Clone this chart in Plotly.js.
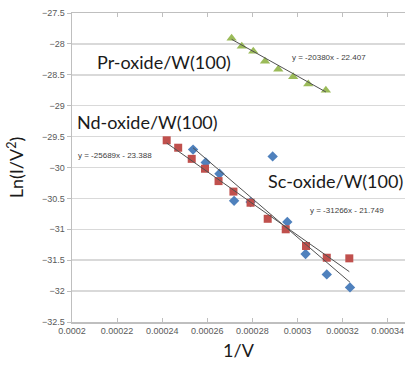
<!DOCTYPE html>
<html>
<head>
<meta charset="utf-8">
<script src="https://cdn.plot.ly/plotly-3.0.1.min.js"></script>
<style>html,body{margin:0;padding:0;background:#fff;}#chart{width:407px;height:365px;}</style>
</head>
<body>
<div id="chart"></div>
<script>
// Pr-oxide/W(100)
const prX = [0.0002708, 0.0002753, 0.0002804, 0.0002856, 0.0002915, 0.0002981, 0.0003048, 0.0003126];
const prY = [-27.91, -28.04, -28.12, -28.28, -28.41, -28.53, -28.65, -28.75];
// Nd-oxide/W(100)
const ndX = [0.0002420, 0.0002471, 0.0002531, 0.0002590, 0.0002650, 0.0002716, 0.0002792, 0.0002868, 0.0002948, 0.0003038, 0.0003130, 0.0003230];
const ndY = [-29.56, -29.68, -29.86, -30.02, -30.22, -30.39, -30.57, -30.83, -31.00, -31.27, -31.46, -31.47];
// Sc-oxide/W(100)
const scX = [0.0002537, 0.0002593, 0.0002654, 0.0002719, 0.0002792, 0.0002890, 0.0002955, 0.0003036, 0.0003130, 0.0003233];
const scY = [-29.71, -29.92, -30.10, -30.54, -30.56, -29.82, -30.88, -31.40, -31.73, -31.94];
// trendline coefficients [slope, intercept]
const prFit = [-20380, -22.407];
const ndFit = [-25689, -23.388];
const scFit = [-31266, -21.749];
const labels = ["Pr-oxide/W(100)", "Nd-oxide/W(100)", "Sc-oxide/W(100)"];
const eqs = ["y = -20380x - 22.407", "y = -25689x - 23.388", "y = -31266x - 21.749"];

function trend(xs, fit) {
  const lo = Math.min(...xs), hi = Math.max(...xs);
  return {x: [lo, hi], y: [fit[0]*lo + fit[1], fit[0]*hi + fit[1]]};
}
const tl = {color: '#505050', width: 1};
const tSc = trend(scX, scFit), tNd = trend(ndX, ndFit), tPr = trend(prX, prFit);

const data = [
  {x: scX, y: scY, mode: 'markers', type: 'scatter', marker: {symbol: 'diamond', size: 8, color: '#4f81bd'}},
  {x: ndX, y: ndY, mode: 'markers', type: 'scatter', marker: {symbol: 'square', size: 8, color: '#c0504d'}},
  {x: prX, y: prY, mode: 'markers', type: 'scatter', marker: {symbol: 'triangle-up', size: 9, color: '#9bbb59'}},
  {x: tSc.x, y: tSc.y, mode: 'lines', type: 'scatter', line: tl},
  {x: tNd.x, y: tNd.y, mode: 'lines', type: 'scatter', line: tl},
  {x: tPr.x, y: tPr.y, mode: 'lines', type: 'scatter', line: tl}
];

const big = {family: 'Lato, "Open Sans", sans-serif', size: 18, color: '#1a1a1a'};
const small = {family: '"Liberation Sans", Arial, sans-serif', size: 8, color: '#404040'};

const layout = {
  width: 407, height: 365,
  margin: {l: 72, r: 2, t: 13, b: 43},
  paper_bgcolor: '#fff', plot_bgcolor: '#fff',
  showlegend: false,
  xaxis: {
    range: [0.0002, 0.0003477], dtick: 0.00002, tick0: 0.0002,
    tickformat: '~r', showgrid: false, zeroline: false,
    showline: true, linecolor: '#bfbfbf', linewidth: 1.5, mirror: 'ticks',
    ticks: 'inside', ticklen: 4, tickcolor: '#bfbfbf',
    tickfont: {family: '"Liberation Sans Narrow", "Liberation Sans", sans-serif', size: 9, color: '#595959'},
    title: {text: '1/V', font: {family: 'Lato, "Open Sans", sans-serif', size: 18, color: '#1a1a1a'}, standoff: 9}
  },
  yaxis: {
    range: [-32.5, -27.5], dtick: 0.5, tick0: -32.5,
    showgrid: true, gridcolor: '#d9d9d9', gridwidth: 1.5, zeroline: false,
    showline: true, linecolor: '#bfbfbf', linewidth: 1.5,
    ticks: 'outside', ticklen: 4, tickcolor: '#bfbfbf',
    tickfont: {family: '"Liberation Sans Narrow", "Liberation Sans", sans-serif', size: 9, color: '#595959'},
    title: {text: 'Ln(I/V<sup>2</sup>)', font: {family: 'Lato, "Open Sans", sans-serif', size: 18, color: '#1a1a1a'}, standoff: 13}
  },
  annotations: [
    {xref: 'paper', yref: 'paper', x: (95-72)/333, y: 1-(62-13)/309, xanchor: 'left', yanchor: 'middle', text: labels[0], showarrow: false, font: big},
    {xref: 'paper', yref: 'paper', x: (75-72)/333, y: 1-(122-13)/309, xanchor: 'left', yanchor: 'middle', text: labels[1], showarrow: false, font: big},
    {xref: 'paper', yref: 'paper', x: 1, y: 1-(181-13)/309, xanchor: 'right', yanchor: 'middle', text: labels[2], showarrow: false, font: big},
    {xref: 'paper', yref: 'paper', x: (290-72)/333, y: 1-(58-13)/309, xanchor: 'left', yanchor: 'middle', text: eqs[0], showarrow: false, font: small},
    {xref: 'paper', yref: 'paper', x: (76-72)/333, y: 1-(155-13)/309, xanchor: 'left', yanchor: 'middle', text: eqs[1], showarrow: false, font: small},
    {xref: 'paper', yref: 'paper', x: (308-72)/333, y: 1-(210-13)/309, xanchor: 'left', yanchor: 'middle', text: eqs[2], showarrow: false, font: small}
  ]
};
Plotly.newPlot('chart', data, layout, {displayModeBar: false, staticPlot: true});
</script>
</body>
</html>
